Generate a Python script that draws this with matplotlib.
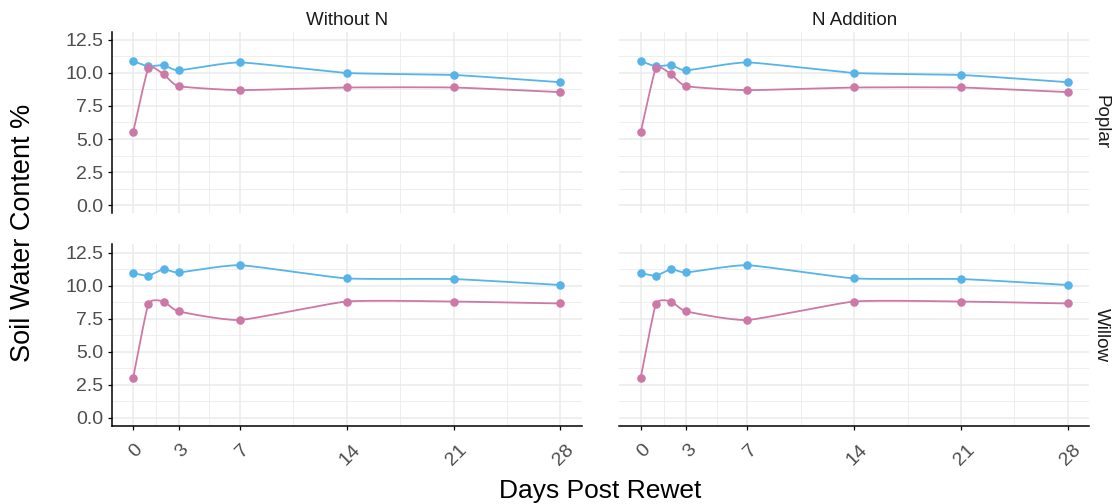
import matplotlib.pyplot as plt
import matplotlib.transforms as mtransforms
import numpy as np

plt.rcParams['font.family'] = ['Liberation Sans', 'DejaVu Sans']

# soil water content (%) by sampling day after rewetting
days = [0, 1, 2, 3, 7, 14, 21, 28]
n_levels = ['Without N', 'N Addition']
species = ['Poplar', 'Willow']

poplar_blue = [10.9, 10.5, 10.6, 10.2, 10.8, 10.0, 9.85, 9.3]
poplar_pink = [5.5, 10.35, 9.9, 9.0, 8.7, 8.9, 8.9, 8.55]
willow_blue = [10.95, 10.75, 11.25, 11.0, 11.55, 10.55, 10.5, 10.05]
willow_pink = [3.0, 8.6, 8.8, 8.05, 7.4, 8.8, 8.8, 8.65]

series = {
    'Poplar': [(poplar_blue, '#56B4E9'), (poplar_pink, '#CC79A7')],
    'Willow': [(willow_blue, '#56B4E9'), (willow_pink, '#CC79A7')],
}

x_major = [0, 3, 7, 14, 21, 28]
x_minor = [1.5, 5, 10.5, 17.5, 24.5]
y_major = np.arange(0, 12.6, 2.5)
y_minor = np.arange(1.25, 12.5, 2.5)

tick_grey = '#4D4D4D'
grid_grey = '#EBEBEB'


def smooth_path(x, y, tension=0.5, steps=40):
    # cardinal Hermite spline through the points
    pts = np.column_stack([x, y]).astype(float)
    tang = np.zeros_like(pts)
    tang[1:-1] = (pts[2:] - pts[:-2]) / 2
    tang[0] = pts[1] - pts[0]
    tang[-1] = pts[-1] - pts[-2]
    tang *= tension
    t = np.linspace(0, 1, steps)[:, None]
    h00 = 2 * t**3 - 3 * t**2 + 1
    h10 = t**3 - 2 * t**2 + t
    h01 = -2 * t**3 + 3 * t**2
    h11 = t**3 - t**2
    out = []
    for i in range(len(pts) - 1):
        seg = h00 * pts[i] + h10 * tang[i] + h01 * pts[i + 1] + h11 * tang[i + 1]
        out.append(seg if i == 0 else seg[1:])
    out = np.vstack(out)
    return out[:, 0], out[:, 1]


fig = plt.figure(figsize=(11.15, 5.04), dpi=100)
lefts = [0.1002, 0.5554]
bottoms = [0.5768, 0.1548]
w, h = 0.4215, 0.3603
shift = mtransforms.ScaledTranslation(3 / 100, 0, fig.dpi_scale_trans)

for r, sp in enumerate(species):
    for c, lvl in enumerate(n_levels):
        ax = fig.add_axes([lefts[c], bottoms[r], w, h])
        ax.set_xlim(-1.4, 29.4)
        ax.set_ylim(-0.625, 13.125)
        ax.set_xticks(x_major)
        ax.set_xticks(x_minor, minor=True)
        ax.set_yticks(y_major)
        ax.set_yticks(y_minor, minor=True)
        ax.grid(which='major', color=grid_grey, lw=1.1, zorder=0)
        ax.grid(which='minor', color=grid_grey, lw=0.6, zorder=0)
        ax.set_axisbelow(True)
        for s in ax.spines.values():
            s.set_visible(False)
        ax.tick_params(which='minor', length=0)
        ax.tick_params(which='major', length=3, width=0.9, color='black',
                       labelsize=14, labelcolor=tick_grey, pad=3)

        if c == 0:
            ax.spines['left'].set_visible(True)
            ax.spines['left'].set_linewidth(1.1)
            ax.set_yticklabels([f'{v:.1f}' for v in y_major])
        else:
            ax.tick_params(axis='y', length=0, labelleft=False)

        if r == 1:
            ax.spines['bottom'].set_visible(True)
            ax.spines['bottom'].set_linewidth(1.1)
            ax.set_xticklabels([str(d) for d in x_major], rotation=45,
                               ha='center', va='top')
            ax.tick_params(axis='x', pad=8)
            for lab in ax.get_xticklabels():
                lab.set_transform(lab.get_transform() + shift)
        else:
            ax.tick_params(axis='x', length=0, labelbottom=False)

        for vals, col in series[sp]:
            sx, sy = smooth_path(days, vals)
            ax.plot(sx, sy, color=col, lw=1.3, zorder=2)
            ax.scatter(days, vals, s=38, color=col, zorder=3, linewidths=0)

        if r == 0:
            ax.set_title(lvl, fontsize=13.5, color='#1A1A1A', pad=5)
        if c == 1:
            ax.text(1.026, 0.5, sp, transform=ax.transAxes, rotation=270,
                    fontsize=13.5, color='#1A1A1A', ha='center', va='center')

fig.text(0.021, 1 - 233 / 504, 'Soil Water Content %', rotation=90,
         fontsize=19.5, ha='center', va='center')
fig.text(600 / 1115, 1 - 498 / 504, 'Days Post Rewet', fontsize=19,
         ha='center', va='baseline')

fig.savefig('out.png', dpi=100)
